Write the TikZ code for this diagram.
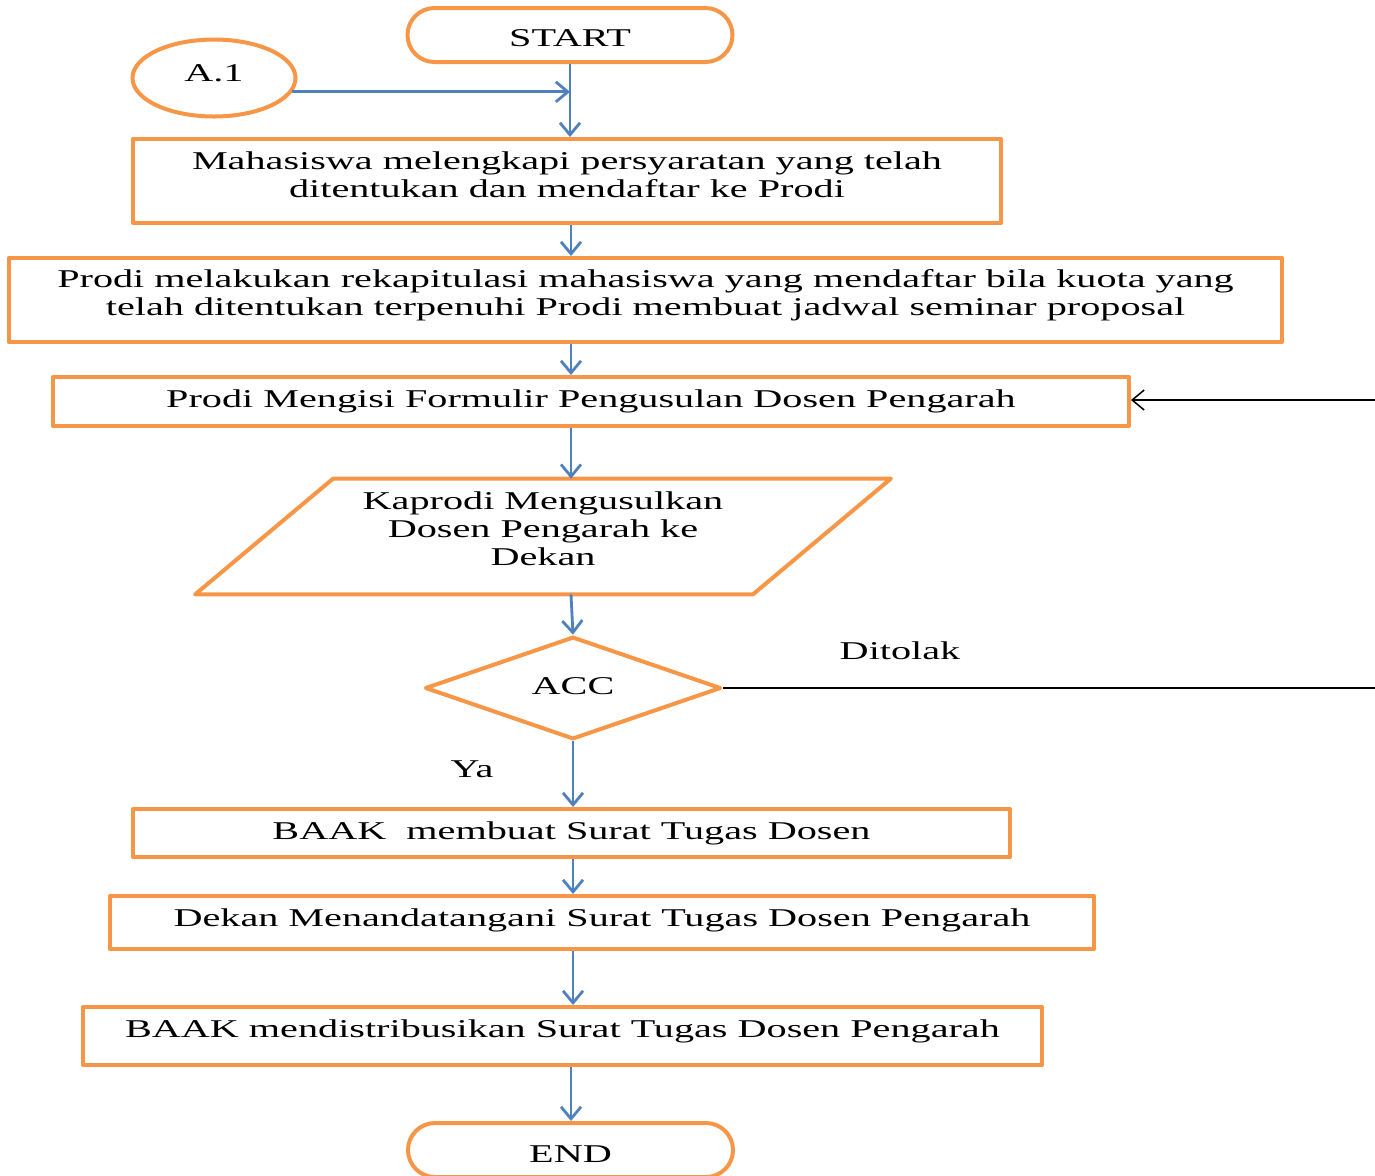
\documentclass[tikz,border=0pt]{standalone}
\usepackage{fontspec}
\setmainfont{Liberation Serif}[FakeStretch=1.57]
\usetikzlibrary{shapes.geometric,arrows.meta}
\definecolor{boxorange}{HTML}{F79646}
\definecolor{arrowblue}{HTML}{4F81BD}
\newcommand{\geser}[1]{\rule[-#1]{0pt}{#1}}
\newcommand{\tinggi}[1]{\rule{0pt}{#1}}
\begin{document}
\begin{tikzpicture}[x=0.5pt,y=-0.5pt,line join=round,
		font=\fontsize{12.8}{14}\selectfont,
		proses/.style={draw=boxorange,line width=2pt,inner sep=0pt,align=center},
		terminal/.style={proses,rounded corners=13.5pt,minimum width=162.5pt,minimum height=27pt},
		panah/.style={draw=arrowblue,line width=1.4pt,-{Straight Barb[length=6pt,width=10pt]}},
		garis/.style={draw=black,line width=0.75pt}]
	\useasboundingbox (0,0) rectangle (1375,1175);
	% simbol alur
	\node[terminal] (start) at (570,35) {\tinggi{11.5pt}START};
	\node[proses,ellipse,minimum width=81.5pt,minimum height=38.5pt] (a1) at (214,78) {\raisebox{4.5pt}{A.1}};
	\node[proses,minimum width=434pt,minimum height=42pt] (mhs) at (567,181) {Mahasiswa melengkapi persyaratan yang telah\\ditentukan dan mendaftar ke Prodi\geser{6pt}};
	\node[proses,minimum width=636.5pt,minimum height=42pt] (rekap) at (645.5,300) {Prodi melakukan rekapitulasi mahasiswa yang mendaftar bila kuota yang\\telah ditentukan terpenuhi Prodi membuat jadwal seminar proposal\geser{7.8pt}};
	\node[proses,minimum width=538pt,minimum height=24.5pt] (form) at (591,401.5) {Prodi Mengisi Formulir Pengusulan Dosen Pengarah};
	\node[minimum width=278.5pt,minimum height=57.5pt,inner sep=0pt,align=center] (kap) at (543,536.5) {Kaprodi Mengusulkan\\Dosen Pengarah ke\\Dekan\geser{8pt}};
	\draw[boxorange,line width=2pt] ([xshift=-34.5pt]kap.south west) -- ([xshift=-34.5pt]kap.south east)
		-- ([xshift=34.5pt]kap.north east) -- ([xshift=34.5pt]kap.north west) -- cycle;
	\node[proses,diamond,minimum width=148pt,minimum height=48pt] (acc) at (573,688) {\raisebox{1.5pt}{ACC}};
	\node[proses,minimum width=438.5pt,minimum height=24pt] (surat) at (571.5,833) {BAAK\ \ membuat Surat Tugas Dosen};
	\node[proses,minimum width=492pt,minimum height=26.5pt] (ttd) at (602,922.5) {Dekan Menandatangani Surat Tugas Dosen Pengarah\geser{4.8pt}};
	\node[proses,minimum width=479.5pt,minimum height=29pt] (dist) at (562.5,1036) {BAAK mendistribusikan Surat Tugas Dosen Pengarah\geser{7.8pt}};
	\node[terminal] (end) at (570.5,1150) {\tinggi{12.5pt}END};
	\node (tolak) at (900,651) {Ditolak};
	\node (ya) at (472,769) {Ya};
	% penghubung
	\coordinate (jalur) at (571,0);
	\coordinate (kanan1) at (1375,400);
	\coordinate (kanan2) at (1375,688);
	\draw[panah] (start.south) -- (start.south |- mhs.north);
	\draw[panah] (a1.-10) -- (a1.-10 -| start.south);
	\draw[panah] (jalur |- mhs.south) -- (jalur |- rekap.north);
	\draw[panah] (jalur |- rekap.south) -- (jalur |- form.north);
	\draw[panah] (jalur |- form.south) -- (jalur |- kap.north);
	\draw[panah] (jalur |- kap.south) -- (acc.north);
	\draw[panah] (acc.south) -- (acc.south |- surat.north);
	\draw[panah] (acc.south |- surat.south) -- (acc.south |- ttd.north);
	\draw[panah] (acc.south |- ttd.south) -- (acc.south |- dist.north);
	\draw[panah] (jalur |- dist.south) -- (jalur |- end.north);
	\draw[garis,-{Straight Barb[length=6pt,width=10pt]}] (kanan1) -- (kanan1 -| form.east);
	\draw[garis] (acc.east) -- (kanan2);
\end{tikzpicture}
\end{document}
